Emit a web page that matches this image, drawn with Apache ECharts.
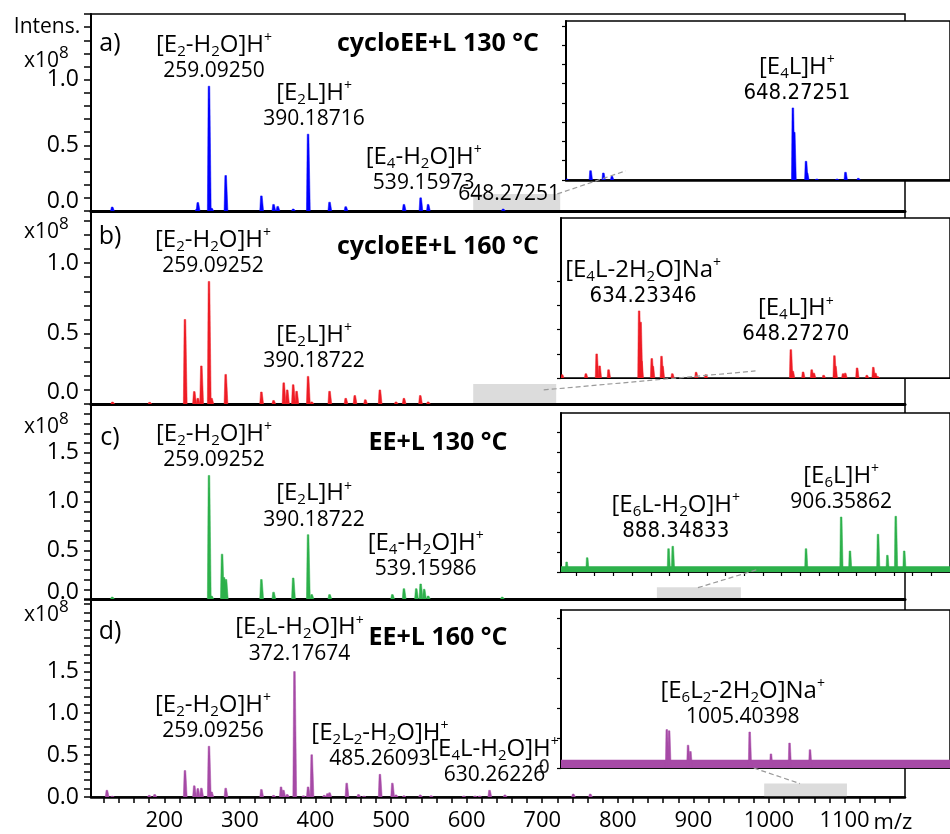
<!DOCTYPE html>
<html><head><meta charset="utf-8">
<script src="https://cdn.jsdelivr.net/npm/echarts@6/dist/echarts.min.js"></script>
<style>html,body{margin:0;padding:0;background:#fff}#c{width:950px;height:834px}</style>
</head><body><div id="c"></div>
<script>
// ================= DATA =================
// main spectra: [m/z, intensity (x10^8)]
const peaksA = [[131,0.03],[243,0.015],[244.3,0.064],[259.09,0.95],[262.5,0.02],[281.2,0.27],[328.4,0.115],[344.5,0.05],[350,0.035],[370.5,0.015],[390.19,0.585],[418.6,0.067],[440,0.033],[517,0.05],[539.16,0.10],[549,0.05],[648.27,0.015]];
const peaksB = [[131.4,0.014],[180.5,0.012],[227.3,0.6],[239.6,0.088],[244.3,0.04],[249,0.27],[259.09,0.87],[262.5,0.04],[281.2,0.21],[328.4,0.085],[344.5,0.025],[358,0.15],[362.6,0.10],[370.5,0.137],[375,0.09],[390.19,0.196],[395,0.015],[418.6,0.09],[440,0.04],[452,0.06],[465.9,0.03],[485.2,0.10],[506.5,0.015],[517,0.04],[538.6,0.06],[549,0.015]];
const peaksC = [[131,0.02],[259.09,1.267],[262.5,0.03],[276.4,0.46],[279,0.22],[281.6,0.2],[328.4,0.2],[344.5,0.07],[370.5,0.215],[390.19,0.66],[395,0.045],[418.6,0.045],[501.7,0.045],[517,0.106],[533.3,0.106],[539.16,0.154],[543.8,0.1],[549,0.03],[647,0.02]];
const peaksD = [[124,0.08],[131,0.01],[180,0.02],[187.2,0.03],[227.3,0.315],[239.6,0.133],[244.3,0.10],[249,0.105],[259.09,0.605],[262.5,0.06],[281.2,0.105],[328.4,0.09],[344.5,0.02],[354.4,0.12],[357.6,0.08],[362.6,0.03],[372.18,1.496],[384,0.015],[390.19,0.12],[395,0.504],[411.5,0.02],[415.8,0.04],[418.6,0.05],[441.3,0.165],[456.9,0.03],[464,0.01],[485.26,0.27],[501.7,0.165],[506.5,0.025],[517,0.015],[538.6,0.025],[553,0.015],[596,0.012],[611,0.012],[617,0.012],[630.26,0.08],[650.6,0.025],[741,0.035],[763.5,0.035]];
// zoomed insets: [m/z, intensity (inset units)]
const insetPeaksA = [[627.06,0.02],[629.3,0.194],[630.5,0.145],[631.3,0.076],[648.27,1.496],[648.4,0.99],[649.5,0.388],[649.6,0.145],[650.5,0.02],[652.4,0.02],[653.2,0.16],[654.4,0.035]];
const insetPeaksB = [[627.1,0.068],[629.3,0.089],[630.3,0.496],[630.57,0.248],[631.4,0.17],[634.23,1.384],[634.37,1.15],[634.45,0.345],[635.4,0.4],[635.5,0.24],[636.3,0.448],[636.4,0.24],[637.3,0.089],[639.5,0.118],[640.4,0.068],[648.27,0.585],[648.45,0.14],[649.4,0.124],[650.2,0.17],[650.4,0.1],[651.3,0.056],[652.3,0.46],[652.4,0.24],[653.1,0.089],[653.3,0.1],[654.4,0.207],[655.3,0.056],[655.9,0.22],[656.1,0.1],[656.3,0.03]];
const insetPeaksC = [[877.0,0.1],[879.2,0.143],[887.9,0.233],[888.35,0.257],[902.6,0.233],[906.36,0.55],[907.3,0.21],[910.3,0.377],[911.3,0.167],[912.2,0.557],[913.1,0.21]];
const insetPeaksD = [[997.29,1.28],[997.52,1.24],[999.37,0.76],[999.6,0.55],[1005.40,1.2],[1007.48,0.47],[1009.3,0.83],[1011.3,0.61]];
const noiseLevelC = 0.05;
const noiseLevelD = 0.25;

// peak annotations
const annotationsA = [
  {mz:259.09, formula:'[E_2-H_2O]H^+', mass:'259.09250'},
  {mz:390.19, formula:'[E_2L]H^+', mass:'390.18716'},
  {mz:539.16, formula:'[E_4-H_2O]H^+', mass:'539.15973'},
  {mz:648.27, formula:null, mass:'648.27251'}];
const annotationsB = [
  {mz:259.09, formula:'[E_2-H_2O]H^+', mass:'259.09252'},
  {mz:390.19, formula:'[E_2L]H^+', mass:'390.18722'}];
const annotationsC = [
  {mz:259.09, formula:'[E_2-H_2O]H^+', mass:'259.09252'},
  {mz:390.19, formula:'[E_2L]H^+', mass:'390.18722'},
  {mz:539.16, formula:'[E_4-H_2O]H^+', mass:'539.15986'}];
const annotationsD = [
  {mz:372.18, formula:'[E_2L-H_2O]H^+', mass:'372.17674'},
  {mz:259.09, formula:'[E_2-H_2O]H^+', mass:'259.09256'},
  {mz:485.26, formula:'[E_2L_2-H_2O]H^+', mass:'485.26093'},
  {mz:630.26, formula:'[E_4L-H_2O]H^+', mass:'630.26226'}];
const insetAnnotationsA = [{mz:648.27, formula:'[E_4L]H^+', mass:'648.27251', narrow:true}];
const insetAnnotationsB = [
  {mz:634.23, formula:'[E_4L-2H_2O]Na^+', mass:'634.23346', narrow:true},
  {mz:648.27, formula:'[E_4L]H^+', mass:'648.27270', narrow:true}];
const insetAnnotationsC = [
  {mz:888.35, formula:'[E_6L-H_2O]H^+', mass:'888.34833', narrow:true},
  {mz:906.36, formula:'[E_6L]H^+', mass:'906.35862'}];
const insetAnnotationsD = [{mz:1005.40, formula:'[E_6L_2-2H_2O]Na^+', mass:'1005.40398'}];

const titles = ['cycloEE+L 130 °C','cycloEE+L 160 °C','EE+L 130 °C','EE+L 160 °C'];
const tags = ['a)','b)','c)','d)'];
const xTickLabels = [200,300,400,500,600,700,800,900,1000,1100];
const yTickLabelsAB = [0, 0.5, 1.0];
const yTickLabelsCD = [0, 0.5, 1.0, 1.5];
const zoomWindows = [[608.7,723.8],[608.7,718.5],[851.7,962.8],[993.7,1103.2]];
const insetRanges = [[627,663],[627,663],[876.4,918],[986.94,1025]];

// ================= LAYOUT / STYLE =================
const FONT = "'Open Sans','Noto Sans','DejaVu Sans',sans-serif";
const NARROW = "'Liberation Sans Narrow','DejaVu Sans Condensed','Open Sans',sans-serif";
const colors = ['#0000ff','#ee1c25','#2db14b','#a64aa6'];
const MAIN = [
  {top:14, h:197, ymax:1.5, zeroLift:20, yLabels:yTickLabelsAB, zoomH:0.13},
  {top:211, h:193, ymax:1.37, zeroLift:24, yLabels:yTickLabelsAB, zoomH:0.142},
  {top:404, h:195, ymax:2.0, zeroLift:14, yLabels:yTickLabelsCD, zoomH:0.12},
  {top:600, h:197, ymax:2.35, zeroLift:0, yLabels:yTickLabelsCD, zoomH:0.16}];
const MAIN_LEFT = 91, MAIN_W = 814, XMIN = 103, XMAX = 1180;
const INSET = [
  {left:566, top:21, w:423, h:159, ymax:3.3, tick:0.4, tickTop:3.2, xLine:2.5},
  {left:561, top:218, w:423, h:160, ymax:3.3, tick:0.5, tickTop:2.0, xLine:1},
  {left:561, top:413, w:404, h:159, ymax:1.59, tick:0.2, tickTop:1.4, xLine:1.5},
  {left:561, top:610, w:396, h:158, ymax:5.27, tick:1, tickTop:5, xLine:1.5}];
const annDx = [[5,6,3,6],[4,6],[5,6,5],[5,4,0,5]];
const annGap = [[3,3,3,3],[3,3],[3,3,3],[6,3,3,3]];
const insetAnnDx = [[4],[4,5],[3,0],[-7]];
const links = [
  {from:[0,[720,0.13]], to:[4,[632.6,0.19]]},
  {from:[1,[702,0.1]], to:[5,[645,0.145]]},
  {from:[2,[906,0.116]], to:[6,[897.6,0.03]]},
  {from:[7,[1005.8,0]], to:[3,[1041,0.16]]}];
const TXT = '#000';

const RICH = {
  f:{fontFamily:FONT, fontSize:24, lineHeight:28, color:TXT},
  s:{fontFamily:FONT, fontSize:15, lineHeight:12, verticalAlign:'bottom', color:TXT},
  p:{fontFamily:FONT, fontSize:14, lineHeight:12, verticalAlign:'top', color:TXT},
  n:{fontFamily:FONT, fontSize:21, lineHeight:24, color:TXT},
  nn:{fontFamily:NARROW, fontSize:22, lineHeight:24, color:TXT}
};
function richFormula(f){
  let out='', buf='';
  for(let i=0;i<f.length;i++){
    const c=f[i];
    if(c==='_'||c==='^'){
      if(buf){out+='{f|'+buf+'}';buf='';}
      out+='{'+(c==='_'?'s':'p')+'|'+f[i+1]+'}'; i++;
    } else buf+=c;
  }
  if(buf) out+='{f|'+buf+'}';
  return out;
}
function heightAt(peaks, mz){
  let best=peaks[0];
  peaks.forEach(p=>{ if(Math.abs(p[0]-mz)<Math.abs(best[0]-mz)) best=p; });
  return best[1];
}
function peakSeries(data, idx, color, z, hw){
  return {type:'custom', xAxisIndex:idx, yAxisIndex:idx, data:data, z:z, clip:true, silent:true,
    encode:{x:0,y:1}, animation:false,
    renderItem:function(params, api){
      const m=api.value(0), h=api.value(1);
      const t=api.coord([m,h]), b=api.coord([m,0]);
      return {type:'polygon', shape:{points:[[b[0]-hw[1],b[1]],[t[0]-hw[0],t[1]],[t[0]+hw[0],t[1]],[b[0]+hw[1]+0.6,b[1]]]},
        style:{fill:color, stroke:color, lineWidth:0.5}};
    }};
}
function annSeries(list, peaks, idx, dxs, gaps){
  return {type:'scatter', xAxisIndex:idx, yAxisIndex:idx, symbolSize:0, z:12, silent:true, animation:false,
    itemStyle:{opacity:1},
    label:{show:true, position:'top', distance:3, align:'center', color:TXT, opacity:1, rich:RICH},
    data:list.map((a,i)=>({value:[a.mz, heightAt(peaks,a.mz)],
      label:{formatter:(a.formula?richFormula(a.formula)+'\n':'')+'{'+(a.narrow?'nn':'n')+'|'+a.mass+'}',
        offset:[dxs[i], gaps ? 3-gaps[i] : 0]}}))};
}
function ticksFrom(start, step, end){ const r=[]; for(let v=start; v<=end+1e-9; v+=step) r.push(+v.toFixed(4)); return r; }

const mainPeaks=[peaksA,peaksB,peaksC,peaksD];
const mainAnn=[annotationsA,annotationsB,annotationsC,annotationsD];
const insetPeaks=[insetPeaksA,insetPeaksB,insetPeaksC,insetPeaksD];
const insetAnn=[insetAnnotationsA,insetAnnotationsB,insetAnnotationsC,insetAnnotationsD];

const grid=[], xAxis=[], yAxis=[], series=[], graphicEls=[];
MAIN.forEach((m,i)=>{
  grid.push({left:MAIN_LEFT, top:m.top, width:MAIN_W, height:m.h, show:true, borderColor:'#000', borderWidth:1.5, backgroundColor:'transparent', z:0});
  const last = i===3;
  xAxis.push({gridIndex:i, type:'value', min:XMIN, max:XMAX, z:1,
    axisLine:{show:true, onZero:false, lineStyle:{color:'#000', width:last?2.5:3}},
    axisTick:{show:last, customValues:ticksFrom(120,20,1160), length:6, lineStyle:{color:'#000', width:1.5}},
    axisLabel:{show:last, customValues:xTickLabels, formatter:v=>String(v), fontFamily:FONT, fontSize:22, color:'#000', margin:13},
    splitLine:{show:false},
    name:last?'m/z':'', nameLocation:'end', nameGap:-3,
    nameTextStyle:{fontFamily:FONT, fontSize:22, color:'#000', align:'right', verticalAlign:'top', padding:[15,0,0,0]}});
  yAxis.push({gridIndex:i, type:'value', min:0, max:m.ymax, interval:0.1, z:1,
    axisLine:{show:true, lineStyle:{color:'#000', width:2}},
    axisTick:{show:true, length:7, lineStyle:{color:'#000', width:1.5}},
    axisLabel:{customValues:m.yLabels, fontFamily:FONT, fontSize:23, color:'#000', margin:12,
      formatter:v=> v===0 ? '{z|0.0}' : '{t|'+v.toFixed(1)+'}',
      rich:{z:{fontFamily:FONT, fontSize:23, color:'#000', padding:[0,0,m.zeroLift,0]}, t:{fontFamily:FONT, fontSize:23, color:'#000'}}},
    splitLine:{show:false}});
  series.push({type:'custom', xAxisIndex:i, yAxisIndex:i, z:1, silent:true, clip:true, animation:false,
    data:[[zoomWindows[i][0], zoomWindows[i][1], m.zoomH]], encode:{x:[0,1], y:2},
    renderItem:function(params, api){
      const a=api.coord([api.value(0), api.value(2)]), b=api.coord([api.value(1),0]);
      return {type:'rect', shape:{x:a[0], y:a[1], width:b[0]-a[0], height:b[1]-a[1]}, style:{fill:'#dcdcdc'}};
    }});
  series.push(peakSeries(mainPeaks[i], i, colors[i], 2, [0.8,1.6]));
  series.push(annSeries(mainAnn[i], mainPeaks[i], i, annDx[i], annGap[i]));
});
INSET.forEach((s,k)=>{
  const gi=4+k;
  grid.push({left:s.left, top:s.top, width:s.w, height:s.h, show:true, borderColor:'#000', borderWidth:1.5, backgroundColor:'#fff', z:5});
  xAxis.push({gridIndex:gi, type:'value', min:insetRanges[k][0], max:insetRanges[k][1], z:6,
    axisLine:{show:true, onZero:false, lineStyle:{color:'#000', width:s.xLine}},
    axisTick:{show:k===2, customValues:ticksFrom(878,2,916), length:4, lineStyle:{color:'#000', width:1.2}},
    axisLabel:{show:false}, splitLine:{show:false}});
  yAxis.push({gridIndex:gi, type:'value', min:0, max:s.ymax, z:6,
    axisLine:{show:true, lineStyle:{color:'#000', width:2}},
    axisTick:{show:true, customValues:ticksFrom(0,s.tick,s.tickTop), length:4, lineStyle:{color:'#000', width:1.2}},
    axisLabel:{show:k===3, customValues:[0], fontFamily:NARROW, fontSize:20, color:'#222', margin:11},
    splitLine:{show:false}});
  if(k===2 || k===3){
    const lvl = k===2 ? noiseLevelC : noiseLevelD;
    series.push({type:'line', xAxisIndex:gi, yAxisIndex:gi, z:7, silent:true, symbol:'none', animation:false,
      data:[[insetRanges[k][0],lvl],[insetRanges[k][1],lvl]],
      lineStyle:{color:colors[k], width:1.5}, areaStyle:{color:colors[k], opacity:1}});
  }
  series.push(peakSeries(insetPeaks[k], gi, colors[k], 8, [0.8,1.4]));
  series.push(annSeries(insetAnn[k], insetPeaks[k], gi, insetAnnDx[k], null));
});

// static texts
const tagY=[44,237,438,632], titleY=[44,247,443,638], x10Y=[61,232,427,615];
graphicEls.push({type:'text', x:47, y:27, z:20, style:{text:'Intens.', font:'21px '+FONT, fill:'#000', textAlign:'center', textVerticalAlign:'middle'}});
for(let i=0;i<4;i++){
  graphicEls.push({type:'text', x:110, y:tagY[i], z:20, style:{text:tags[i], font:'25px '+FONT, fill:'#000', textAlign:'center', textVerticalAlign:'middle'}});
  graphicEls.push({type:'text', x:438, y:titleY[i], z:20, style:{text:titles[i], font:'bold 25px '+FONT, fill:'#000', textAlign:'center', textVerticalAlign:'middle'}});
  graphicEls.push({type:'text', x:59, y:x10Y[i], z:20, style:{text:'x10', font:'21px '+FONT, fill:'#000', textAlign:'right', textVerticalAlign:'middle'}});
  graphicEls.push({type:'text', x:59, y:x10Y[i]-8, z:20, style:{text:'8', font:'17px '+FONT, fill:'#000', textAlign:'left', textVerticalAlign:'middle'}});
}

const chart = echarts.init(document.getElementById('c'), null, {renderer:'canvas'});
chart.setOption({animation:false, backgroundColor:'#fff', grid, xAxis, yAxis, series, graphic:{elements:graphicEls}});
const lineEls = links.map(l=>{
  const a = chart.convertToPixel({xAxisIndex:l.from[0], yAxisIndex:l.from[0]}, l.from[1]);
  const b = chart.convertToPixel({xAxisIndex:l.to[0], yAxisIndex:l.to[0]}, l.to[1]);
  return {type:'line', z:15, silent:true, shape:{x1:a[0], y1:a[1], x2:b[0], y2:b[1]}, style:{stroke:'#9a9a9a', lineWidth:1.2, lineDash:[5,3]}};
});
chart.setOption({graphic:{elements:graphicEls.concat(lineEls)}});
</script></body></html>
